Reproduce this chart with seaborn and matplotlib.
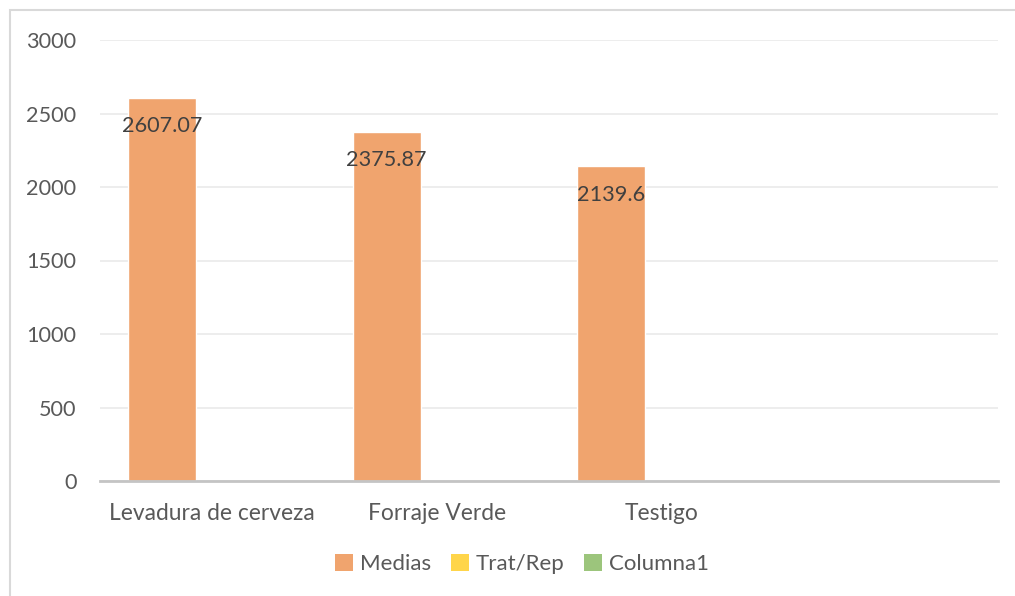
import numpy as np
import pandas as pd
import matplotlib
matplotlib.use("Agg")
import matplotlib.pyplot as plt
import seaborn as sns
from matplotlib.patches import Rectangle, Patch

categories = ["Levadura de cerveza", "Forraje Verde", "Testigo"]
medias = [2607.07, 2375.87, 2139.6]
series = ["Medias", "Trat/Rep", "Columna1"]
series_colors = ["#F0A46E", "#FFD54A", "#9CC57C"]
data_labels = ["2607.07", "2375.87", "2139.6"]
yticks = [0, 500, 1000, 1500, 2000, 2500, 3000]

sns.set_theme(style="white")
plt.rcParams['font.family'] = ['Lato', 'DejaVu Sans']

W, H = 1015, 596
fig = plt.figure(figsize=(W/100, H/100), dpi=100)
ax = fig.add_axes([100/W, (H-481)/H, (998-100)/W, (481-40)/H])

df = pd.DataFrame({"cat": categories, "val": medias})
pos = np.arange(len(categories)) - 0.223
bars = ax.bar(pos, df["val"], width=0.303, color=series_colors[0], zorder=3)

for b, lab in zip(bars, data_labels):
    ax.text(b.get_x() + b.get_width()/2, b.get_height() - 195, lab,
            ha="center", va="center", fontsize=15.6, color="#404040", zorder=4)

ax.set_xlim(-0.5, 3.5)
ax.set_ylim(0, 3000)
ax.set_yticks(yticks)
ax.set_yticklabels([str(t) for t in yticks], fontsize=15.6, color="#595959")
ax.set_xticks(np.arange(len(categories)))
ax.set_xticklabels(categories, fontsize=16.4, color="#595959")
ax.tick_params(axis="both", length=0)
ax.tick_params(axis="y", pad=17)
ax.tick_params(axis="x", pad=16)
ax.yaxis.grid(True, color="#EAEAEA", linewidth=1.2, zorder=0)
for s in ["top", "right", "left"]:
    ax.spines[s].set_visible(False)
ax.spines["bottom"].set_color("#C4C4C4")
ax.spines["bottom"].set_linewidth(2)
ax.spines["bottom"].set_zorder(5)

handles = [Patch(facecolor=c, edgecolor="none") for c in series_colors]
fig.legend(handles, series, loc="center", bbox_to_anchor=(522/W, 1-564/H), ncol=3,
           frameon=False, fontsize=16, handlelength=0.8, handleheight=0.8,
           handletextpad=0.3, columnspacing=0.9, labelcolor="#595959")

fig.patches.append(Rectangle((10/W, -0.01), 1.0, 1 - 10/H + 0.01, transform=fig.transFigure,
                             fill=False, edgecolor="#D9D9D9", linewidth=1.5))

fig.savefig("out.png", dpi=100)
